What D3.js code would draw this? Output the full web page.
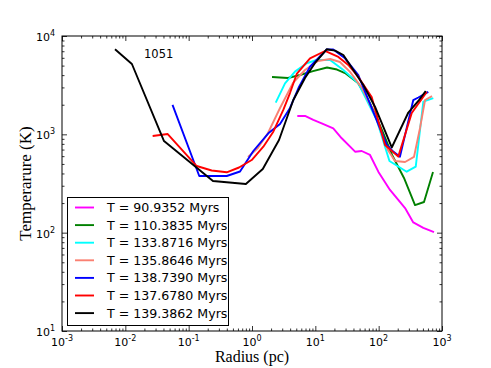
<!DOCTYPE html>
<html>
<head>
<meta charset="utf-8">
<script src="https://cdn.jsdelivr.net/npm/d3@7"></script>
<style>
  body { margin: 0; background: #fff; }
  svg { display: block; }
  .tick text { display: none; }
  .domain { display: none; }
</style>
</head>
<body>
<div id="chart"></div>
<script>
// radius (pc) and temperature (K) for each snapshot
var r_90 = [5.19, 6.87, 9.29, 12.6, 19.2, 26.1, 42.4, 54.0, 73.0, 98.7, 151, 204, 261, 352, 507, 748];
var T_90 = [1537, 1537, 1400, 1295, 1151, 912, 666, 677, 617, 417, 272, 215, 178, 127, 112, 101];

var r_110 = [2.07, 3.70, 5.73, 9.19, 15.3, 22.0, 29.4, 47.2, 73, 113, 163, 251, 375, 520, 721];
var T_110 = [3830, 3740, 4010, 4400, 4780, 4560, 4200, 3330, 2080, 1106, 617, 360, 191, 205, 414];

var r_133 = [2.37, 3.32, 4.77, 7.31, 10.5, 17.1, 27.7, 47.7, 93.1, 148, 277, 385, 507, 729];
var T_133 = [2100, 3300, 4340, 5280, 5700, 5700, 4510, 3300, 1400, 535, 417, 469, 2150, 2330];

var r_135 = [0.865, 1.24, 1.79, 2.77, 4.44, 6.87, 11.0, 17.1, 24.5, 35.3, 54.6, 87.5, 140, 181, 261, 361, 450, 540, 696];
var T_135 = [589, 727, 1032, 1853, 3330, 4510, 5570, 5840, 5440, 4310, 2960, 1574, 693, 536, 523, 589, 1162, 2235, 2450];

var r_138 = [0.0556, 0.147, 0.399, 0.647, 1.05, 1.81, 2.77, 3.98, 5.52, 8.24, 15.1, 19.2, 29.4, 47.7, 134, 170, 217, 352, 423, 608];
var T_138 = [1990, 377, 377, 419, 677, 1025, 1274, 1853, 3030, 4870, 7290, 7290, 5930, 4010, 780, 667, 593, 2230, 2370, 2700];

var r_137 = [0.0270, 0.0467, 0.134, 0.231, 0.399, 0.624, 0.989, 1.51, 2.17, 3.12, 3.98, 5.08, 8.24, 14.2, 23.1, 33.2, 47.7, 77.6, 126, 204, 333, 574];
var T_137 = [962, 1007, 476, 429, 411, 460, 548, 748, 1064, 1770, 2630, 4110, 5930, 7040, 6120, 5070, 3830, 2400, 780, 593, 1650, 2700];

var r_139 = [0.00687, 0.0127, 0.0408, 0.242, 0.80, 1.48, 2.67, 4.49, 6.87, 9.89, 15.1, 20.5, 27.7, 39.8, 57.3, 87.5, 161, 294, 423, 553];
var T_139 = [7330, 5190, 855, 335, 313, 444, 876, 2235, 3740, 5320, 7330, 7090, 6410, 4510, 3180, 1910, 735, 1667, 2183, 2760];

var labels = ["T = 90.9352 Myrs", "T = 110.3835 Myrs", "T = 133.8716 Myrs", "T = 135.8646 Myrs",
              "T = 138.7390 Myrs", "T = 137.6780 Myrs", "T = 139.3862 Myrs"];
var colors = ["#ff00ff", "#008000", "#00ffff", "#fa8072", "#0000ff", "#ff0000", "#000000"];

var xExp = [-3, -2, -1, 0, 1, 2, 3];
var yExp = [1, 2, 3, 4];

var series = [[r_90, T_90], [r_110, T_110], [r_133, T_133], [r_135, T_135],
              [r_138, T_138], [r_137, T_137], [r_139, T_139]];

var width = 491, height = 368;
var mLeft = 62, mRight = 442, mTop = 36, mBottom = 331;

var x = d3.scaleLog().domain([1e-3, 1e3]).range([mLeft, mRight]);
var y = d3.scaleLog().domain([10, 1e4]).range([mBottom, mTop]);

var svg = d3.select('#chart').append('svg')
  .attr('width', width)
  .attr('height', height);

// minor tick values for log axes
function minors(scale) {
  return scale.ticks().filter(function(d) {
    return Math.abs(Math.log10(d) - Math.round(Math.log10(d))) > 1e-6;
  });
}
var xMaj = xExp.map(function(e) { return Math.pow(10, e); });
var yMaj = yExp.map(function(e) { return Math.pow(10, e); });

function ticks(axis, pos, vals, size) {
  svg.append('g')
    .attr('transform', pos)
    .call(axis.tickValues(vals).tickSize(size).tickFormat(''))
    .selectAll('line').attr('stroke', '#000').attr('stroke-width', 0.8);
}
ticks(d3.axisBottom(x), 'translate(0,' + mBottom + ')', xMaj, -5);
ticks(d3.axisBottom(x), 'translate(0,' + mBottom + ')', minors(x), -2.5);
ticks(d3.axisTop(x), 'translate(0,' + mTop + ')', xMaj, -5);
ticks(d3.axisTop(x), 'translate(0,' + mTop + ')', minors(x), -2.5);
ticks(d3.axisLeft(y), 'translate(' + mLeft + ',0)', yMaj, -5);
ticks(d3.axisLeft(y), 'translate(' + mLeft + ',0)', minors(y), -2.5);
ticks(d3.axisRight(y), 'translate(' + mRight + ',0)', yMaj, -5);
ticks(d3.axisRight(y), 'translate(' + mRight + ',0)', minors(y), -2.5);

// curves
var line = d3.line()
  .x(function(d) { return x(d[0]); })
  .y(function(d) { return y(d[1]); });

series.forEach(function(s, i) {
  var pts = s[0].map(function(r, j) { return [r, s[1][j]]; });
  svg.append('path')
    .datum(pts)
    .attr('d', line)
    .attr('fill', 'none')
    .attr('stroke', colors[i])
    .attr('stroke-width', 1.9)
    .attr('stroke-linejoin', 'round');
});

// frame
svg.append('rect')
  .attr('x', mLeft).attr('y', mTop)
  .attr('width', mRight - mLeft).attr('height', mBottom - mTop)
  .attr('fill', 'none').attr('stroke', '#000').attr('stroke-width', 1);

// tick labels 10^n
var font = "'DejaVu Sans', sans-serif";
xExp.forEach(function(e) {
  var t = svg.append('text')
    .attr('x', x(Math.pow(10, e)))
    .attr('y', 346)
    .attr('text-anchor', 'middle')
    .attr('font-family', font)
    .attr('font-size', 11);
  t.append('tspan').text('10');
  t.append('tspan').attr('dy', -5).attr('font-size', 8).text(e);
});
yExp.forEach(function(e) {
  var t = svg.append('text')
    .attr('x', 55)
    .attr('y', y(Math.pow(10, e)) + 5)
    .attr('text-anchor', 'end')
    .attr('font-family', font)
    .attr('font-size', 11);
  t.append('tspan').text('10');
  t.append('tspan').attr('dy', -5).attr('font-size', 8).text(e);
});

// axis titles
svg.append('text')
  .attr('x', (mLeft + mRight) / 2)
  .attr('y', 362)
  .attr('text-anchor', 'middle')
  .attr('font-family', "'Liberation Serif', serif")
  .attr('font-size', 16)
  .text('Radius (pc)');

svg.append('text')
  .attr('transform', 'translate(31,' + ((mTop + mBottom) / 2) + ') rotate(-90)')
  .attr('text-anchor', 'middle')
  .attr('font-family', "'Liberation Serif', serif")
  .attr('font-size', 17)
  .text('Temperarure (K)');

svg.append('text')
  .attr('x', 144)
  .attr('y', 58)
  .attr('font-family', font)
  .attr('font-size', 11.5)
  .text('1051');

// legend
var leg = svg.append('g');
leg.append('rect')
  .attr('x', 67.5).attr('y', 197.5)
  .attr('width', 161).attr('height', 128)
  .attr('fill', '#fff').attr('stroke', '#000').attr('stroke-width', 1);

labels.forEach(function(l, i) {
  var cy = 207.5 + i * 17.6;
  leg.append('line')
    .attr('x1', 75).attr('x2', 94)
    .attr('y1', cy).attr('y2', cy)
    .attr('stroke', colors[i]).attr('stroke-width', 1.9);
  leg.append('text')
    .attr('x', 107).attr('y', cy + 4.5)
    .attr('font-family', font)
    .attr('font-size', 12.6)
    .text(l);
});
</script>
</body>
</html>
